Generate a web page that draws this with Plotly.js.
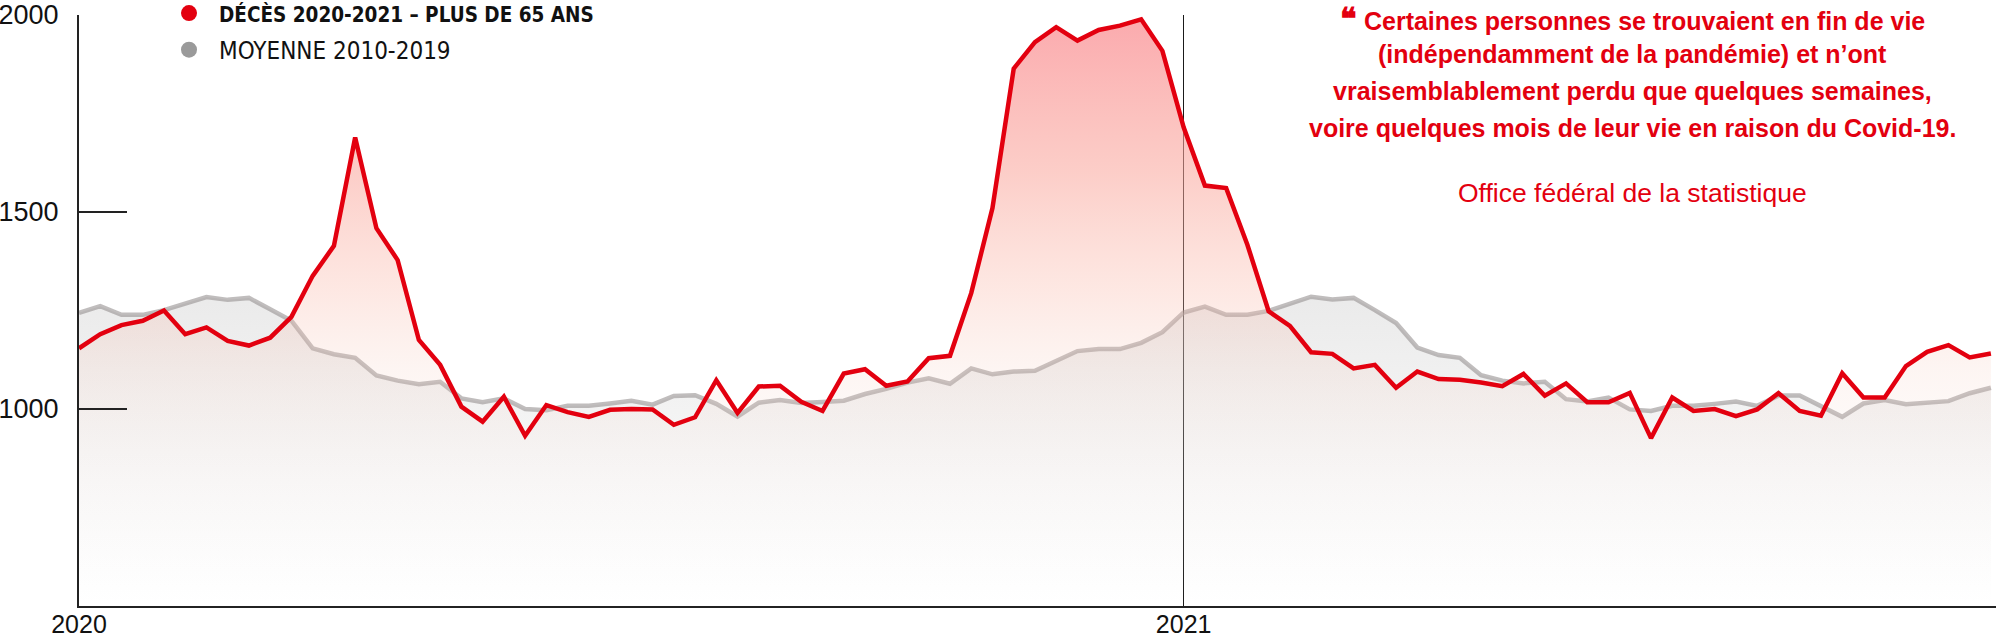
<!DOCTYPE html>
<html>
<head>
<meta charset="utf-8">
<script src="https://cdn.plot.ly/plotly-3.0.1.min.js"></script>
<style>
  html, body { margin: 0; padding: 0; background: #ffffff; }
  #chart { width: 1996px; height: 640px; }
</style>
</head>
<body>
<div id="chart"></div>
<script>
// Semaines depuis début 2020 (0 = 1re semaine 2020, 52 = 1re semaine 2021)
const weeks = [0,1,2,3,4,5,6,7,8,9,10,11,12,13,14,15,16,17,18,19,20,21,22,23,24,25,26,27,28,29,
  30,31,32,33,34,35,36,37,38,39,40,41,42,43,44,45,46,47,48,49,50,51,52,53,54,55,56,57,58,59,
  60,61,62,63,64,65,66,67,68,69,70,71,72,73,74,75,76,77,78,79,80,81,82,83,84,85,86,87,88,89,90];

// Décès hebdomadaires 2020-2021, plus de 65 ans
const deces = [1154,1190,1213,1224,1250,1190,1207,1173,1161,1181,1234,1338,1414,1689,1459,1378,1175,1112,1006,968,
  1031,932,1010,992,980,998,1000,999,960,979,1073,990,1057,1059,1018,995,1090,1101,1059,1070,
  1129,1135,1294,1510,1864,1931,1969,1935,1962,1973,1989,1909,1715,1567,1561,1417,1248,1211,1144,1140,
  1103,1112,1054,1095,1076,1074,1067,1058,1089,1034,1065,1017,1017,1041,926,1029,995,1000,982,999,
  1040,995,983,1091,1029,1029,1109,1145,1162,1131,1141];

// Moyenne 2010-2019
const moyenne = [1244,1261,1239,1239,1251,1268,1284,1277,1282,1253,1224,1154,1139,1130,1085,1072,1063,1069,1027,1017,
  1027,1000,997,1008,1008,1014,1021,1011,1033,1035,1013,981,1016,1023,1015,1018,1021,1038,1051,1067,
  1078,1064,1103,1088,1095,1097,1123,1147,1152,1152,1168,1195,1245,1260,1239,1239,1249,1267,1285,1278,
  1282,1251,1218,1156,1137,1130,1086,1072,1065,1069,1025,1019,1029,999,995,1008,1008,1013,1019,1008,
  1034,1034,1006,980,1014,1023,1012,1016,1020,1040,1054];

const yTickVals = [1000, 1500, 2000];
const xTickVals = [0, 52];
const xTickText = ['2020', '2021'];

const nameDeces = 'DÉCÈS 2020-2021 – PLUS DE 65 ANS';
const nameMoyenne = 'MOYENNE 2010-2019';

const quoteMark = '❝';
const quoteLines = [
  'Certaines personnes se trouvaient en fin de vie',
  '(indépendamment de la pandémie) et n’ont',
  'vraisemblablement perdu que quelques semaines,',
  'voire quelques mois de leur vie en raison du Covid-19.'
];
const sourceText = 'Office fédéral de la statistique';

const RED = '#e3000f';
const COND = '"DejaVu Sans Condensed", "DejaVu Sans", sans-serif';
const SANS = '"Liberation Sans", Arial, sans-serif';

const traces = [
  {
    x: weeks, y: moyenne, type: 'scatter', mode: 'lines',
    line: { color: 'rgba(150,145,145,0.6)', width: 4.5 },
    fill: 'tozeroy',
    fillgradient: {
      type: 'vertical', start: 500, stop: 1300,
      colorscale: [[0, 'rgba(200,200,200,0)'], [0.375, 'rgba(200,200,200,0.12)'],
                   [0.625, 'rgba(200,200,200,0.22)'], [1, 'rgba(200,200,200,0.38)']]
    },
    showlegend: false, hoverinfo: 'skip'
  },
  {
    x: weeks, y: deces, type: 'scatter', mode: 'lines',
    line: { color: RED, width: 4.5 },
    fill: 'tozeroy',
    fillgradient: {
      type: 'vertical', start: 500, stop: 2000,
      colorscale: [[0, 'rgba(255,255,255,0)'], [0.267, 'rgba(245,215,205,0.10)'],
                   [0.4, 'rgba(245,200,185,0.18)'], [0.533, 'rgba(250,185,170,0.33)'],
                   [0.733, 'rgba(250,165,155,0.55)'], [1, 'rgba(250,145,150,0.78)']]
    },
    showlegend: false, hoverinfo: 'skip'
  },
  {
    x: [null], y: [null], type: 'scatter', mode: 'markers',
    marker: { color: RED, size: 20 }, legendgroup: 'a',
    name: '<b><span style="font-size:20.5px">' + nameDeces + '</span></b>'
  },
  {
    x: [null], y: [null], type: 'scatter', mode: 'markers',
    marker: { color: '#9a9a9a', size: 20 }, legendgroup: 'b',
    name: nameMoyenne
  }
];

const plotTop = 15, plotBottom = 606, plotH = plotBottom - plotTop;
const plotLeft = 79, plotW = 1996 - plotLeft;
const quoteCenterX = (1632 - plotLeft) / plotW;
const quoteMid = [19.5, 54.5, 91, 128];

const annotations = quoteLines.map((t, i) => ({
  xref: 'paper', yref: 'paper', x: quoteCenterX, y: (plotBottom - quoteMid[i]) / plotH,
  xanchor: 'center', yanchor: 'middle', showarrow: false,
  text: i === 0
    ? '<b><span style="font-size:31px">' + quoteMark + '</span> ' + t + '</b>'
    : '<b>' + t + '</b>',
  font: { family: SANS, size: 25, color: RED }
}));
annotations.push({
  xref: 'paper', yref: 'paper', x: quoteCenterX, y: (plotBottom - 193) / plotH,
  xanchor: 'center', yanchor: 'middle', showarrow: false,
  text: sourceText,
  font: { family: SANS, size: 26.5, color: RED }
});

const layout = {
  width: 1996, height: 640,
  margin: { l: plotLeft, r: 0, t: plotTop, b: 640 - plotBottom, pad: 0, autoexpand: false },
  paper_bgcolor: '#ffffff', plot_bgcolor: '#ffffff',
  showlegend: true,
  legend: {
    xref: 'paper', yref: 'paper',
    x: (159 - plotLeft) / plotW, y: (plotBottom + 9) / plotH,
    xanchor: 'left', yanchor: 'top',
    font: { family: COND, size: 24, color: '#111111' },
    bgcolor: 'rgba(0,0,0,0)', itemwidth: 50, tracegroupgap: 2.4
  },
  xaxis: {
    range: [0, 90.24], fixedrange: true,
    tickvals: xTickVals, ticktext: xTickText, ticks: '',
    showgrid: true, gridcolor: '#1a1a1a', gridwidth: 1.3,
    showline: true, linecolor: '#222222', linewidth: 2,
    zeroline: false,
    tickfont: { family: SANS, size: 25, color: '#111111' },
    ticklabelstandoff: -5
  },
  yaxis: {
    range: [500, 2000], fixedrange: true,
    tickvals: yTickVals, ticks: 'inside', ticklen: 48, tickwidth: 1.6, tickcolor: '#222222',
    showgrid: false, zeroline: false,
    showline: true, linecolor: '#222222', linewidth: 2,
    tickfont: { family: SANS, size: 27, color: '#111111' },
    ticklabelstandoff: 13, ticklabeloverflow: 'allow'
  },
  annotations: annotations
};

Plotly.newPlot('chart', traces, layout, { displayModeBar: false, staticPlot: true });
</script>
</body>
</html>
